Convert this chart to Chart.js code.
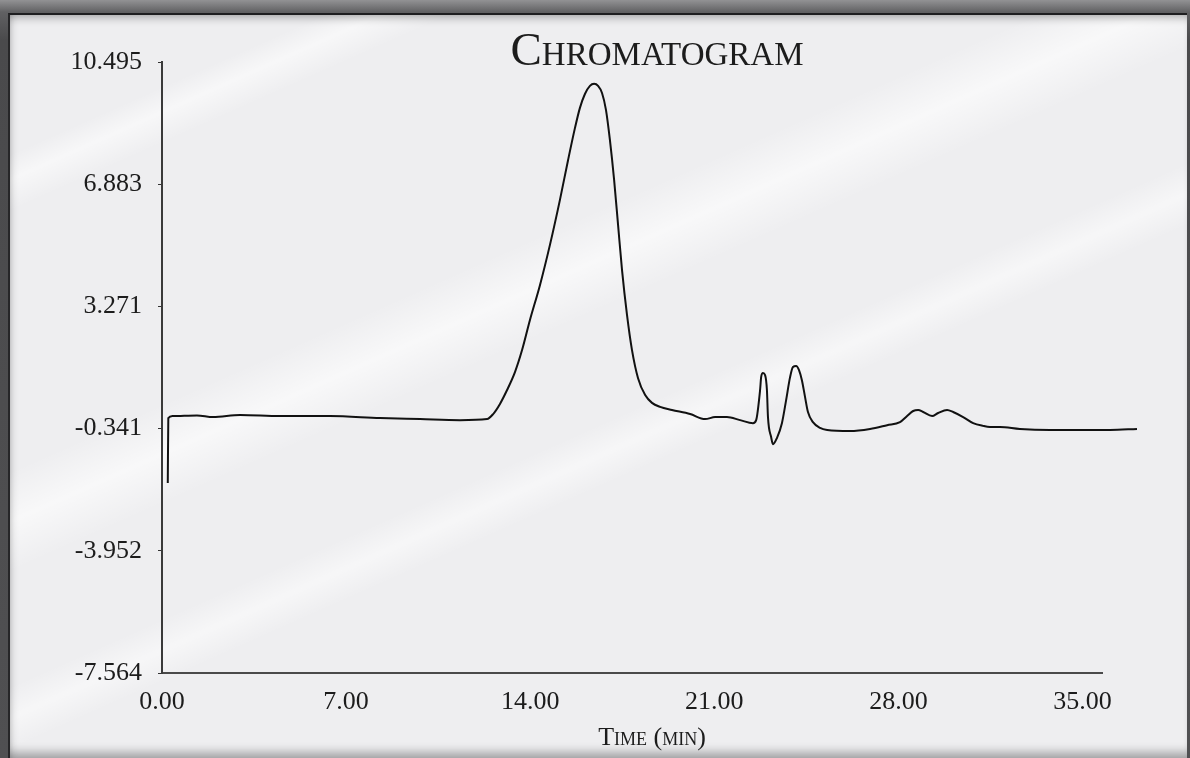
<!DOCTYPE html>
<html>
<head>
<meta charset="utf-8">
<script src="https://cdn.jsdelivr.net/npm/chart.js@4.4.1/dist/chart.umd.min.js"></script>
<style>
  html, body { margin: 0; padding: 0; width: 1190px; height: 758px; overflow: hidden; background: #4a4a4c; }
  #frame {
    position: absolute; left: 0; top: 0; width: 1190px; height: 758px;
    background: linear-gradient(#929294 0px, #616163 12px, #4a4a4c 40px, #505052 100%);
  }
  #panel {
    position: absolute; left: 8px; top: 13px; right: 3px; bottom: 0;
    border-top: 2px solid #1e1e20; border-left: 2px solid #262628;
    background:
      linear-gradient(156deg, rgba(255,255,255,0) 11%, rgba(255,255,255,0.55) 13%, rgba(255,255,255,0) 15.5%),
      linear-gradient(156deg, rgba(255,255,255,0) 36%, rgba(255,255,255,0.6) 40%, rgba(255,255,255,0) 44%),
      linear-gradient(156deg, rgba(255,255,255,0) 53%, rgba(255,255,255,0.5) 55.5%, rgba(255,255,255,0) 58%),
      #eeeef0;
    box-shadow: inset 0 9px 9px -6px rgba(0,0,0,0.28), inset 6px 0 8px -6px rgba(0,0,0,0.25), inset 0 -12px 10px -6px rgba(0,0,0,0.3);
  }
  #chart { position: absolute; left: 0; top: 0; }
</style>
</head>
<body>
<div id="frame"><div id="panel"></div></div>
<canvas id="chart" width="1190" height="758"></canvas>
<script>
// retention time (min) and detector signal
const timeMin = [0.22, 0.24, 0.40, 1.33, 1.94, 2.97, 4.49, 6.39, 8.29, 9.81, 11.33, 12.36, 12.59, 12.85, 13.12, 13.42, 13.69, 13.99, 14.37, 14.75, 15.13, 15.44, 15.70, 15.89, 16.08, 16.27, 16.43, 16.58, 16.73, 16.88, 17.03, 17.19, 17.34, 17.49, 17.68, 17.87, 18.10, 18.37, 18.63, 18.94, 19.39, 20.08, 20.65, 21.03, 21.48, 21.98, 22.47, 22.59, 22.74, 22.78, 22.85, 22.93, 23.00, 23.04, 23.16, 23.23, 23.38, 23.57, 23.73, 23.88, 23.99, 24.11, 24.22, 24.33, 24.45, 24.56, 24.75, 25.02, 25.29, 26.16, 26.92, 27.57, 28.06, 28.33, 28.56, 28.75, 28.94, 29.28, 29.51, 29.85, 30.08, 30.46, 30.84, 31.22, 31.48, 31.86, 32.62, 33.76, 34.90, 36.05, 37.07];
const signal = [-1.95, -0.03, 0.03, 0.05, 0.00, 0.06, 0.03, 0.03, -0.03, -0.06, -0.09, -0.06, 0.09, 0.39, 0.80, 1.33, 1.98, 2.87, 3.90, 5.09, 6.42, 7.60, 8.54, 9.14, 9.55, 9.79, 9.85, 9.79, 9.58, 9.08, 8.19, 7.01, 5.68, 4.35, 3.02, 1.98, 1.15, 0.65, 0.42, 0.30, 0.21, 0.09, -0.06, 0.00, 0.00, -0.09, -0.18, -0.09, 0.80, 1.18, 1.30, 1.24, 0.80, 0.00, -0.59, -0.80, -0.62, -0.18, 0.50, 1.18, 1.48, 1.51, 1.39, 1.09, 0.59, 0.15, -0.15, -0.32, -0.38, -0.41, -0.35, -0.24, -0.15, 0.03, 0.18, 0.21, 0.15, 0.03, 0.12, 0.21, 0.15, 0.00, -0.18, -0.26, -0.29, -0.29, -0.35, -0.38, -0.38, -0.38, -0.35];

const xTicks = [0, 7, 14, 21, 28, 35];
const yTicks = [-7.564, -3.952, -0.341, 3.271, 6.883, 10.495];
const xAxisEnd = 35.74;

const chartTitle = 'Chromatogram';
const axisTitle = 'Time (min)';

const serif = "'Liberation Serif', 'Times New Roman', serif";

const smallCapsText = {
    id: 'smallCapsText',
    afterDraw(chart) {
        const ctx = chart.ctx;
        ctx.save();
        ctx.fillStyle = '#1c1c1c';
        ctx.textAlign = 'center';
        ctx.textBaseline = 'alphabetic';
        ctx.font = '47px ' + serif;
        ctx.fontVariantCaps = 'small-caps';
        ctx.fillText(chartTitle, 657, 65);
        ctx.font = '26px ' + serif;
        ctx.fontVariantCaps = 'small-caps';
        ctx.fillText(axisTitle, 652, 745);
        ctx.restore();
    }
};

const points = timeMin.map((t, i) => ({ x: t, y: signal[i] }));

new Chart(document.getElementById('chart'), {
    type: 'line',
    data: {
        datasets: [{
            data: points,
            borderColor: '#111111',
            borderWidth: 2,
            pointRadius: 0,
            fill: false,
            cubicInterpolationMode: 'monotone',
            clip: false
        }]
    },
    options: {
        responsive: false,
        animation: false,
        layout: { padding: { top: 62, right: 88, left: 0, bottom: 0 } },
        plugins: {
            legend: { display: false },
            tooltip: { enabled: false }
        },
        scales: {
            x: {
                type: 'linear',
                bounds: 'data',
                afterDataLimits: function(scale) { scale.min = 0; scale.max = xAxisEnd; },
                afterBuildTicks: function(scale) {
                    scale.ticks = xTicks.map(v => ({ value: v }));
                    scale.min = 0;
                    scale.max = xAxisEnd;
                },
                afterFit: function(scale) { scale.height = 85; },
                grid: { display: true, drawOnChartArea: false, drawTicks: false },
                border: { display: true, color: '#4a4a4a', width: 2 },
                ticks: {
                    padding: 14,
                    maxRotation: 0,
                    autoSkip: false,
                    color: '#1c1c1c',
                    font: { family: serif, size: 26 },
                    callback: function(value) { return Number(value).toFixed(2); }
                }
            },
            y: {
                min: yTicks[0],
                max: yTicks[yTicks.length - 1],
                afterBuildTicks: function(scale) { scale.ticks = yTicks.map(v => ({ value: v })); },
                afterFit: function(scale) { scale.width = 162; },
                grid: { display: true, drawOnChartArea: false, drawTicks: true, tickLength: 4, tickColor: '#333333', tickWidth: 1 },
                border: { display: true, color: '#3a3a3a', width: 2 },
                ticks: {
                    padding: 16,
                    autoSkip: false,
                    color: '#1c1c1c',
                    font: { family: serif, size: 26 },
                    callback: function(value) { return Number(value).toFixed(3); }
                }
            }
        }
    },
    plugins: [smallCapsText]
});
</script>
</body>
</html>
